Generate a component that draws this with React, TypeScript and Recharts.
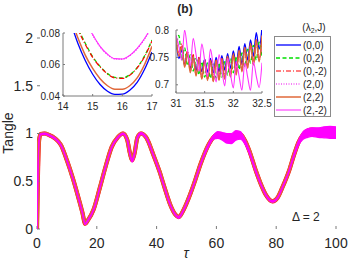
import React from "react";
import { ComposedChart, LineChart, Line, Area, XAxis, YAxis, CartesianGrid } from "recharts";

// main panel: tangle vs tau
const mainTau = [
  0, 0.3, 0.7, 1.2, 2.5, 4, 6, 8, 10, 12,
  14, 15.2, 16.1, 17, 19, 21, 23, 25, 27, 28.8,
  30.2, 31.1, 31.8, 32.6, 33.6, 34.8, 36.5, 39, 41, 42.5,
  44.5, 46.3, 47.4, 49, 51.3, 53, 54.7, 57.5, 59, 60.5,
  62, 63.5, 65, 66.5, 68, 69.5, 71, 73.2, 75, 76.5,
  78.8, 80.5, 82, 84.3, 86, 87.5, 89, 90.5, 92, 94,
  96, 98, 100,
];
const mainBase = [
  0, 0.55, 0.93, 0.995, 1.0, 0.985, 0.95, 0.88, 0.72, 0.53,
  0.31, 0.17, 0.055, 0.09, 0.21, 0.43, 0.66, 0.86, 0.96, 1.0,
  0.93, 0.79, 0.72, 0.79, 0.96, 1.0, 0.96, 0.77, 0.6, 0.45,
  0.26, 0.15, 0.125, 0.2, 0.37, 0.52, 0.68, 0.89, 0.96, 0.99,
  0.98, 0.96, 0.955, 0.98, 0.99, 0.93, 0.82, 0.61, 0.46, 0.36,
  0.29, 0.33, 0.43, 0.61, 0.78, 0.91, 0.99, 1.03, 1.04, 1.035,
  1.03, 1.03, 1.02,
];
const mainPinkLow = [
  0, 0.54, 0.92, 0.985, 0.99, 0.975, 0.94, 0.87, 0.71, 0.52,
  0.3, 0.16, 0.045, 0.08, 0.2, 0.42, 0.65, 0.85, 0.95, 0.99,
  0.92, 0.77, 0.7, 0.77, 0.95, 0.99, 0.95, 0.76, 0.59, 0.44,
  0.25, 0.14, 0.112, 0.19, 0.36, 0.51, 0.67, 0.87, 0.94, 0.95,
  0.93, 0.9, 0.895, 0.93, 0.94, 0.89, 0.79, 0.59, 0.45, 0.35,
  0.28, 0.32, 0.42, 0.6, 0.76, 0.88, 0.94, 0.96, 0.97, 0.96,
  0.955, 0.95, 0.95,
];
const mainPinkHigh = [
  0, 0.56, 0.94, 1.0, 1.005, 0.99, 0.955, 0.885, 0.725, 0.535,
  0.315, 0.175, 0.06, 0.095, 0.215, 0.435, 0.665, 0.865, 0.965, 1.005,
  0.94, 0.8, 0.73, 0.8, 0.97, 1.01, 0.965, 0.775, 0.605, 0.455,
  0.265, 0.155, 0.13, 0.205, 0.375, 0.525, 0.685, 0.9, 0.98, 1.02,
  1.01, 1.0, 1.0, 1.03, 1.02, 0.94, 0.825, 0.615, 0.465, 0.365,
  0.295, 0.335, 0.435, 0.615, 0.79, 0.93, 1.02, 1.05, 1.06, 1.06,
  1.07, 1.075, 1.07,
];
const mainTauTicks = [0, 20, 40, 60, 80, 100];
const mainTangleTicks = [0, 0.5, 1, 1.5, 2];

// inset A: minimum near tau = 16
const insetATau = [14, 14.25, 14.5, 14.75, 15, 15.25, 15.5, 15.75, 16, 16.25, 16.5, 16.75, 17];
const insetA_00 = [0.1, 0.087, 0.0735, 0.0625, 0.0538, 0.0473, 0.043, 0.041, 0.0412, 0.0437, 0.0487, 0.057, 0.068];
const insetA_02 = [0.109, 0.096, 0.0835, 0.0735, 0.065, 0.0588, 0.0542, 0.0518, 0.0515, 0.0535, 0.058, 0.0655, 0.0755];
const insetA_0m2 = [0.108, 0.095, 0.0825, 0.0728, 0.0645, 0.0585, 0.054, 0.0515, 0.0512, 0.0532, 0.0578, 0.065, 0.075];
const insetA_20 = [0.114, 0.105, 0.0965, 0.088, 0.0788, 0.0713, 0.0663, 0.0636, 0.0634, 0.0656, 0.07, 0.0762, 0.0842];
const insetA_22 = [0.104, 0.09, 0.077, 0.066, 0.0575, 0.051, 0.0465, 0.0443, 0.0443, 0.0465, 0.0515, 0.06, 0.0715];
const insetA_2m2 = [0.115, 0.1055, 0.097, 0.0885, 0.079, 0.0715, 0.0665, 0.0637, 0.0635, 0.0658, 0.0703, 0.0765, 0.0845];
const insetATauTicks = [14, 15, 16, 17];
const insetATangleTicks = [0.04, 0.06, 0.08];

// inset B: dip near tau = 32
const insetBTau = [
  31, 31.05, 31.1, 31.15, 31.2, 31.25, 31.3, 31.35, 31.4, 31.45,
  31.5, 31.55, 31.6, 31.65, 31.7, 31.75, 31.8, 31.85, 31.9, 31.95,
  32, 32.05, 32.1, 32.15, 32.2, 32.25, 32.3, 32.35, 32.4, 32.45, 32.5,
];
const insetB_00 = [
  0.78, 0.748, 0.764, 0.736, 0.757, 0.73, 0.752, 0.726, 0.749, 0.724,
  0.747, 0.723, 0.748, 0.722, 0.75, 0.724, 0.753, 0.727, 0.757, 0.73,
  0.762, 0.735, 0.77, 0.738, 0.775, 0.745, 0.782, 0.752, 0.795, 0.765, 0.805,
];
const insetB_02 = [
  0.765, 0.79, 0.745, 0.768, 0.735, 0.755, 0.725, 0.748, 0.718, 0.742,
  0.714, 0.74, 0.712, 0.738, 0.712, 0.74, 0.714, 0.742, 0.718, 0.747,
  0.722, 0.752, 0.728, 0.758, 0.733, 0.765, 0.74, 0.772, 0.745, 0.778, 0.752,
];
const insetB_0m2 = [
  0.785, 0.755, 0.775, 0.735, 0.762, 0.725, 0.755, 0.718, 0.75, 0.712,
  0.746, 0.71, 0.745, 0.708, 0.745, 0.71, 0.748, 0.712, 0.752, 0.716,
  0.757, 0.72, 0.762, 0.726, 0.768, 0.732, 0.775, 0.738, 0.782, 0.745, 0.785,
];
const insetB_20 = [
  0.775, 0.76, 0.768, 0.74, 0.758, 0.73, 0.75, 0.722, 0.745, 0.716,
  0.742, 0.713, 0.741, 0.711, 0.742, 0.713, 0.745, 0.716, 0.749, 0.72,
  0.753, 0.724, 0.758, 0.73, 0.764, 0.736, 0.77, 0.742, 0.777, 0.748, 0.78,
];
const insetB_22 = [
  0.79, 0.752, 0.77, 0.732, 0.758, 0.722, 0.752, 0.716, 0.748, 0.71,
  0.744, 0.708, 0.744, 0.706, 0.745, 0.708, 0.748, 0.71, 0.752, 0.714,
  0.756, 0.718, 0.762, 0.724, 0.768, 0.73, 0.775, 0.736, 0.782, 0.742, 0.79,
];
const insetB_2m2 = [
  0.79, 0.77, 0.745, 0.8, 0.765, 0.735, 0.785, 0.755, 0.725, 0.775,
  0.745, 0.715, 0.765, 0.735, 0.705, 0.755, 0.727, 0.698, 0.748, 0.72,
  0.694, 0.742, 0.716, 0.69, 0.74, 0.714, 0.69, 0.742, 0.716, 0.695, 0.74,
];
const insetBTauTicks = [31, 31.5, 32, 32.5];
const insetBTangleTicks = [0.7, 0.75, 0.8];

const seriesNames = ["(0,0)", "(0,2)", "(0,-2)", "(2,0)", "(2,2)", "(2,-2)"];

const FONT = '"Liberation Sans", Arial, Helvetica, sans-serif';
const TXT = "#262626";
const AX = "#7a7a7a";
const MAIN_MARGIN = { top: 17, right: 13, bottom: 33, left: 37 };

// line look for each series, in legend order
const styles = [
  { key: "s00", color: "#0000ff", width: 1.3, dash: undefined },
  { key: "s02", color: "#00e000", width: 1.3, dash: "4 2.5" },
  { key: "s0m2", color: "#ff0000", width: 1.2, dash: "5 2 1 2" },
  { key: "s20", color: "#ee00ee", width: 1.2, dash: "1 1.5" },
  { key: "s22", color: "#e0683a", width: 1.5, dash: undefined },
  { key: "s2m2", color: "#ff33ff", width: 1.1, dash: undefined },
];

const mainData = mainTau.map((t, i) => ({
  tau: t,
  base: mainBase[i],
  lo: mainPinkLow[i],
  hi: mainPinkHigh[i],
  band: [mainPinkLow[i], mainPinkHigh[i]],
}));

const insetAData = insetATau.map((t, i) => ({
  tau: t,
  s00: insetA_00[i],
  s02: insetA_02[i],
  s0m2: insetA_0m2[i],
  s20: insetA_20[i],
  s22: insetA_22[i],
  s2m2: insetA_2m2[i],
}));

const insetBData = insetBTau.map((t, i) => ({
  tau: t,
  s00: insetB_00[i],
  s02: insetB_02[i],
  s0m2: insetB_0m2[i],
  s20: insetB_20[i],
  s22: insetB_22[i],
  s2m2: insetB_2m2[i],
}));

function Inset({ data, xDomain, yDomain, xTicks, yTicks, left, top, width, height, yWidth, yMargin, right }) {
  const tick = { fontSize: 10, fill: TXT, fontFamily: FONT };
  return (
    <div style={{ position: "absolute", left, top }}>
      <LineChart width={width} height={height} data={data} margin={{ top: 6, right, bottom: 0, left: 0 }}>
        <CartesianGrid horizontal={false} vertical={false} fill="#ffffff" />
        <XAxis dataKey="tau" type="number" domain={xDomain} ticks={xTicks} allowDataOverflow interval={0}
          height={17} tickSize={-2} tickMargin={9} axisLine={{ stroke: AX }} tickLine={{ stroke: AX }} tick={tick} />
        <XAxis xAxisId="top" orientation="top" type="number" domain={xDomain} ticks={xTicks} allowDataOverflow
          height={0} tickSize={-2} tick={false} axisLine={{ stroke: AX }} tickLine={{ stroke: AX }} />
        <YAxis type="number" domain={yDomain} ticks={yTicks} allowDataOverflow interval={0}
          width={yWidth} tickSize={-2} tickMargin={yMargin} axisLine={{ stroke: AX }} tickLine={{ stroke: AX }} tick={tick} />
        <YAxis yAxisId="right" orientation="right" type="number" domain={yDomain} ticks={yTicks} allowDataOverflow
          width={0} tickSize={-2} tick={false} axisLine={{ stroke: AX }} tickLine={{ stroke: AX }} />
        {styles.map((s) => (
          <Line key={s.key} dataKey={s.key} type="monotone" stroke={s.color} strokeWidth={s.width}
            strokeDasharray={s.dash} dot={false} activeDot={false} isAnimationActive={false} />
        ))}
      </LineChart>
    </div>
  );
}

export default function App() {
  const mainTick = { fontSize: 14, fill: TXT, fontFamily: FONT };
  return (
    <div style={{ position: "absolute", left: 0, top: 0, width: 349, height: 262, background: "#fff", fontFamily: FONT }}>
      <ComposedChart width={349} height={262} data={mainData} margin={{ top: 17, right: 13, bottom: 0, left: 0 }}>
        <XAxis dataKey="tau" type="number" domain={[0, 100]} ticks={mainTauTicks} allowDataOverflow interval={0}
          height={33} tickSize={-3} tickMargin={12} axisLine={false} tickLine={{ stroke: AX }} tick={mainTick} />
        <XAxis xAxisId="top" orientation="top" type="number" domain={[0, 100]} ticks={mainTauTicks} allowDataOverflow
          height={0} tickSize={-3} tick={false} axisLine={{ stroke: AX }} tickLine={{ stroke: AX }} />
        <YAxis type="number" domain={[0, 2.22]} ticks={mainTangleTicks} allowDataOverflow interval={0}
          width={37} tickSize={-3} tickMargin={7} axisLine={false} tickLine={{ stroke: AX }} tick={mainTick} />
        <YAxis yAxisId="right" orientation="right" type="number" domain={[0, 2.22]} ticks={mainTangleTicks} allowDataOverflow
          width={0} tickSize={-3} tick={false} axisLine={{ stroke: AX }} tickLine={{ stroke: AX }} />
        <Line dataKey="base" type="monotone" stroke={styles[0].color} strokeWidth={1.5} dot={false} activeDot={false} isAnimationActive={false} />
        <Line dataKey="base" type="monotone" stroke={styles[1].color} strokeWidth={1.5} dot={false} activeDot={false} isAnimationActive={false} />
        <Line dataKey="base" type="monotone" stroke={styles[2].color} strokeWidth={4.2} dot={false} activeDot={false} isAnimationActive={false} />
        <Line dataKey="base" type="monotone" stroke={styles[3].color} strokeWidth={1.5} dot={false} activeDot={false} isAnimationActive={false} />
        <Line dataKey="base" type="monotone" stroke={styles[4].color} strokeWidth={3.8} dot={false} activeDot={false} isAnimationActive={false} />
      </ComposedChart>

      {/* (2,-2) band drawn on top of the other series */}
      <div style={{ position: "absolute", left: 0, top: 0 }}>
        <ComposedChart width={349} height={262} data={mainData} margin={MAIN_MARGIN}>
          <XAxis dataKey="tau" type="number" domain={[0, 100]} allowDataOverflow hide />
          <YAxis type="number" domain={[0, 2.22]} allowDataOverflow hide />
          <Area dataKey="band" type="monotone" stroke="none" fill="#ff00ff" fillOpacity={1}
            dot={false} activeDot={false} isAnimationActive={false} />
          <Line dataKey="lo" type="monotone" stroke="#ff00ff" strokeWidth={1.2} dot={false} activeDot={false} isAnimationActive={false} />
          <Line dataKey="hi" type="monotone" stroke="#ff00ff" strokeWidth={1.2} dot={false} activeDot={false} isAnimationActive={false} />
        </ComposedChart>
      </div>

      <Inset data={insetAData} xDomain={[14, 17]} yDomain={[0.04, 0.08]} xTicks={insetATauTicks} yTicks={insetATangleTicks}
        left={30} top={27} width={130} height={86} yWidth={33} yMargin={5} right={8} />
      <Inset data={insetBData} xDomain={[31, 32.5]} yDomain={[0.685, 0.8]} xTicks={insetBTauTicks} yTicks={insetBTangleTicks}
        left={140} top={24} width={142} height={86} yWidth={36} yMargin={9} right={20} />

      <svg width={349} height={262} style={{ position: "absolute", left: 0, top: 0, pointerEvents: "none" }}>
        <text x={185} y={12.5} textAnchor="middle" fontSize={12} fontWeight="bold" fill={TXT} fontFamily={FONT}>(b)</text>
        <text x={12.5} y={133} transform="rotate(-90 12.5 133)" textAnchor="middle" fontSize={14} fill={TXT} fontFamily={FONT}>Tangle</text>
        <text x={186} y={258} textAnchor="middle" fontSize={14} fontStyle="italic" fill={TXT} fontFamily={FONT}>τ</text>
        <text x={292} y={220.5} fontSize={12} fill={TXT} fontFamily={FONT}>Δ = 2</text>

        <text x={314} y={30.5} textAnchor="middle" fontSize={10} fill={TXT} fontFamily={FONT}>
          (λ<tspan fontSize={7} dy={2.5}>2</tspan><tspan dy={-2.5}>,J)</tspan>
        </text>
        <rect x={274.5} y={36.5} width={56} height={80} fill="#fff" stroke="#8a8a8a" strokeWidth={1} />
        {seriesNames.map((name, i) => {
          const s = styles[i];
          const cy = 45 + i * 13;
          return (
            <g key={name}>
              <line x1={276} x2={301} y1={cy} y2={cy} stroke={s.color} strokeWidth={s.width} strokeDasharray={s.dash} />
              <text x={303} y={cy + 3.5} fontSize={10} fill={TXT} fontFamily={FONT}>{name}</text>
            </g>
          );
        })}
      </svg>
    </div>
  );
}
